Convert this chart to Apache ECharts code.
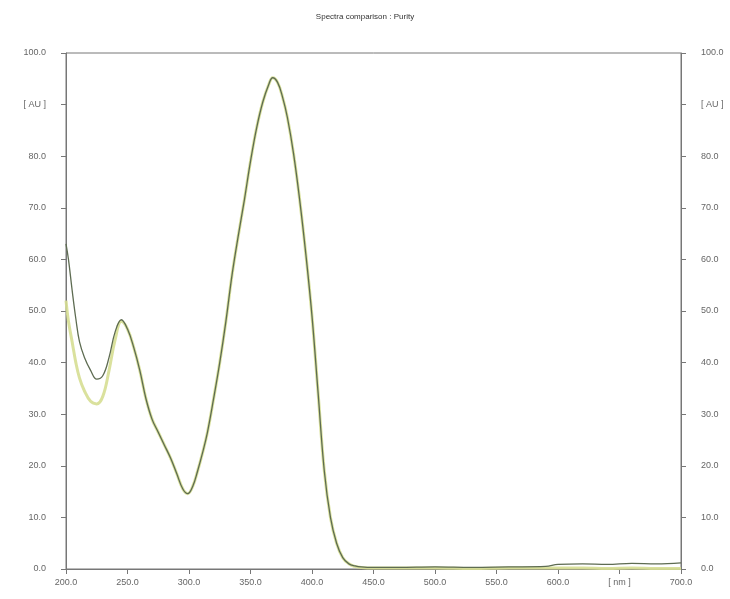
<!DOCTYPE html>
<html>
<head>
<meta charset="utf-8">
<script src="https://cdn.jsdelivr.net/npm/echarts@6/dist/echarts.min.js"></script>
<style>
  html, body { margin: 0; padding: 0; background: #fff; }
  #chart { width: 730px; height: 599px; }
</style>
</head>
<body>
<div id="chart"></div>
<script>
// wavelength samples [nm]
const wavelengths = [200, 202, 205, 208, 211, 215, 220, 225, 230, 235, 240, 245, 250, 255, 260, 265, 270, 275, 280, 285,
  290, 295, 299, 303, 307, 311, 315, 320, 325, 330, 335, 340, 345, 350, 355, 360, 365, 368, 372, 376,
  380, 385, 390, 395, 400, 405, 410, 415, 420, 425, 430, 435, 440, 450, 470, 500, 530, 560, 590, 600,
  620, 640, 660, 680, 700]

// absorbance [AU]
const spectrumA = [63, 60, 54, 48.5, 44, 41, 38.5, 36.8, 37.5, 41, 46, 48.3, 46.5, 43, 38.5, 33, 29, 26.5, 24, 21.5,
  18.5, 15.5, 14.6, 16, 19, 22.5, 26.5, 33, 40, 48, 57, 64.5, 71.5, 79, 85.5, 90.5, 94, 95.2, 94.3, 91.5,
  87.5, 80.5, 71.5, 61, 49, 34, 19, 10, 5, 2.2, 1.0, 0.6, 0.4, 0.3, 0.3, 0.4, 0.3, 0.4, 0.5, 0.9,
  1.0, 0.9, 1.1, 1.0, 1.2]

const spectrumB = [52, 48, 44, 40, 37, 34.5, 32.5, 32, 33.5, 38.5, 44.5, 48, 46.5, 43, 38.5, 33, 29, 26.5, 24, 21.5,
  18.5, 15.5, 14.6, 16, 19, 22.5, 26.5, 33, 40, 48, 57, 64.5, 71.5, 79, 85.5, 90.5, 94, 95.2, 94.3, 91.5,
  87.5, 80.5, 71.5, 61, 49, 34, 19, 10, 5, 2.2, 1.0, 0.5, 0.3, 0.2, 0.2, 0.2, 0.1, 0.2, 0.2, 0.2,
  0.2, 0.1, 0.2, 0.1, 0.1]

const pairs = (ys) => wavelengths.map((x, i) => [x, ys[i]])

const labelStyle = { fontFamily: 'Liberation Sans', fontSize: 9, color: '#666' }

function yAxisDef(side) {
  return {
    type: 'value',
    position: side,
    min: 0,
    max: 100,
    interval: 10,
    axisLine: { show: true, lineStyle: { color: '#777' } },
    axisTick: { show: true, length: 5, lineStyle: { color: '#777' } },
    splitLine: { show: false },
    axisLabel: Object.assign({}, labelStyle, {
      margin: 20,
      formatter: v => (v === 90 ? '[ AU ]' : v.toFixed(1))
    })
  }
}

const chart = echarts.init(document.getElementById('chart'))
chart.setOption({
  animation: false,
  backgroundColor: '#fff',
  title: {
    text: 'Spectra comparison : Purity',
    left: 'center',
    top: 8,
    textStyle: { fontFamily: 'Liberation Sans', fontSize: 8, fontWeight: 'normal', color: '#333' }
  },
  grid: { left: 66, right: 49, top: 53, bottom: 30, show: true, borderColor: '#777', borderWidth: 1 },
  xAxis: {
    type: 'value',
    min: 200,
    max: 700,
    interval: 50,
    axisLine: { show: true, lineStyle: { color: '#777' } },
    axisTick: { show: true, length: 5, lineStyle: { color: '#777' } },
    splitLine: { show: false },
    axisLabel: Object.assign({}, labelStyle, {
      margin: 9,
      formatter: v => (v === 650 ? '[ nm ]' : v.toFixed(1))
    })
  },
  yAxis: [yAxisDef('left'), yAxisDef('right')],
  series: [
    {
      type: 'line',
      data: pairs(spectrumB),
      smooth: 0.4,
      showSymbol: false,
      lineStyle: { color: '#d6de92', width: 3, opacity: 0.9 }
    },
    {
      type: 'line',
      data: pairs(spectrumA),
      smooth: 0.4,
      showSymbol: false,
      lineStyle: { color: '#5e6c52', width: 1.3 }
    }
  ]
})
</script>
</body>
</html>
